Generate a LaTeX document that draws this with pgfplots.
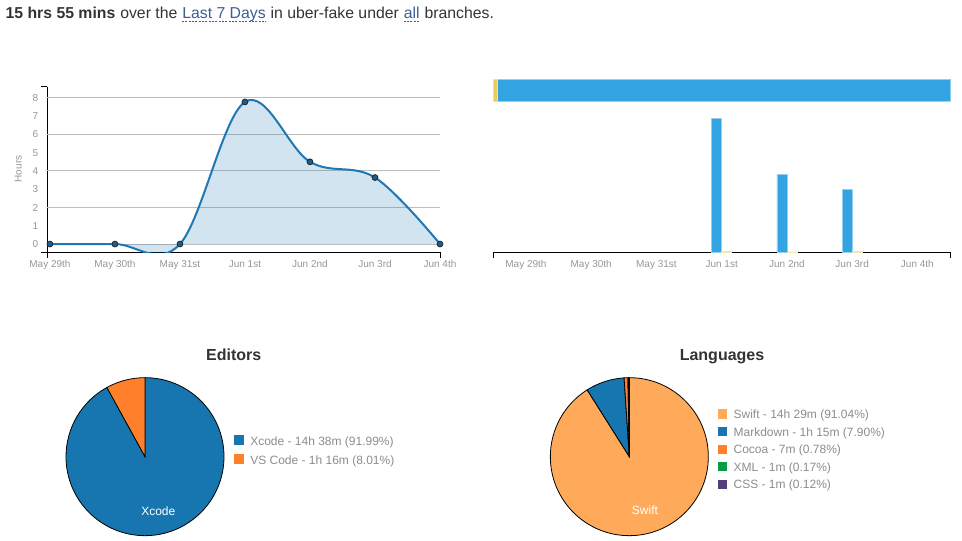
\documentclass[border=0pt]{standalone}
\usepackage{pgfplots}
\pgfplotsset{compat=1.18}
\usepackage{fontspec}
\setmainfont{Liberation Sans}
\setsansfont{Liberation Sans}
\definecolor{txt}{RGB}{51,51,51}
\definecolor{tickgray}{RGB}{150,150,150}
\definecolor{leggray}{RGB}{140,140,140}
\definecolor{gridgray}{RGB}{190,190,190}
\definecolor{linkc}{RGB}{58,94,150}
\definecolor{lineblue}{RGB}{31,119,180}
\definecolor{markblue}{RGB}{25,95,150}
\definecolor{barblue}{RGB}{51,164,226}
\definecolor{barborder}{RGB}{150,205,240}
\definecolor{baryellow}{RGB}{233,206,90}
\definecolor{d3blue}{RGB}{23,118,176}
\definecolor{d3orange}{RGB}{255,127,42}
\definecolor{swift}{RGB}{255,170,90}
\definecolor{xmlgreen}{RGB}{12,154,68}
\definecolor{csspurple}{RGB}{85,63,123}
\newcommand{\tickfont}{\fontsize{7.5}{9}\selectfont}
\newcommand{\legfont}{\fontsize{9}{11}\selectfont}
\begin{document}
\begin{tikzpicture}
\path[use as bounding box] (0,0) rectangle (721.5pt,-405.75pt);

% ---------- header ----------
\begin{scope}[every node/.style={inner sep=0pt, anchor=base west, text=txt, font=\fontsize{11.85}{14}\selectfont}]
\node (h1) at (4pt,-13.9pt) {\bfseries 15 hrs 55 mins};
\node (h2) at (h1.base east) {\ over the\ \null};
\node[text=linkc] (h3) at (h2.base east) {Last 7 Days};
\node (h4) at (h3.base east) {\ in uber-fake under\ \null};
\node[text=linkc] (h5) at (h4.base east) {all};
\node (h6) at (h5.base east) {\ branches.};
\end{scope}
\draw[linkc, line width=0.6pt, dash pattern=on 1.5pt off 1pt] ([yshift=-1.8pt]h3.base west) -- ([yshift=-1.8pt]h3.base east);
\draw[linkc, line width=0.6pt, dash pattern=on 1.5pt off 1pt] ([yshift=-1.8pt]h5.base west) -- ([yshift=-1.8pt]h5.base east);

% ---------- line chart ----------
\begin{axis}[name=lc,
  at={(35.5pt,-189.2pt)}, anchor=south west,
  scale only axis, width=294.5pt, height=124pt,
  xmin=-0.04, xmax=6, ymin=-0.45, ymax=8.6,
  axis x line*=bottom, axis y line*=left,
  axis line style={black, line width=0.75pt},
  xtick={0,...,6},
  xticklabels={May 29th, May 30th, May 31st, Jun 1st, Jun 2nd, Jun 3rd, Jun 4th},
  ytick={0,...,8},
  major tick length=0pt,
  tick label style={font=\tickfont, text=tickgray},
  xticklabel style={inner sep=0pt, anchor=north, yshift=-6pt},
  yticklabel style={inner sep=0pt, anchor=east, xshift=-6.75pt},
  /pgf/number format/assume math mode=true,
  extra y ticks={0,2,4,6,8}, extra y tick labels={},
  extra y tick style={grid=major},
  major grid style={gridgray, line width=0.75pt},
  ylabel={Hours},
  ylabel style={at={(axis description cs:-0.074,0.504)}, anchor=center, font=\tickfont, text=tickgray},
]
\addplot[smooth, tension=0.6, draw=none, fill=lineblue, fill opacity=0.2] coordinates {
  (0,0) (1,0) (2,0) (3,7.78) (4,4.50) (5,3.64) (6,0)} \closedcycle;
\addplot[smooth, tension=0.6, lineblue, line width=1.5pt,
  mark=*, mark size=2.2pt, mark options={fill=markblue, draw=black!85, line width=0.6pt}]
  coordinates {(0,0) (1,0) (2,0) (3,7.78) (4,4.50) (5,3.64) (6,0)};
\end{axis}
\draw[line width=0.75pt] (lc.north west) -- ++(-4.5pt,0);
\draw[line width=0.75pt] (lc.south west) -- ++(-4.5pt,0);
\draw[line width=0.75pt] (lc.south west) -- ++(0,-4.5pt);
\draw[line width=0.75pt] (lc.south east) -- ++(0,-4.5pt);

% ---------- top stacked bar ----------
\begin{axis}[
  at={(370pt,-76.3pt)}, anchor=south west,
  scale only axis, width=343pt, height=17pt,
  xmin=0, xmax=100, ymin=-0.5, ymax=0.5,
  hide axis, xbar stacked, bar width=16.5pt,
]
\addplot[fill=baryellow, draw=baryellow!60, line width=0.4pt] coordinates {(0.96,0)};
\addplot[fill=barblue, draw=barborder, line width=0.6pt] coordinates {(99.04,0)};
\end{axis}

% ---------- bar chart ----------
\begin{axis}[name=bc,
  at={(370pt,-189.2pt)}, anchor=south west,
  scale only axis, width=342.5pt, height=103.8pt,
  xmin=-0.5, xmax=6.5, ymin=0, ymax=8,
  axis x line*=bottom, axis y line=none,
  axis line style={black, line width=0.75pt},
  xtick={0,...,6},
  xticklabels={May 29th, May 30th, May 31st, Jun 1st, Jun 2nd, Jun 3rd, Jun 4th},
  ytick=\empty,
  major tick length=0pt,
  tick label style={font=\tickfont, text=tickgray},
  xticklabel style={inner sep=0pt, anchor=north, yshift=-6pt},
]
\addplot[ybar, bar width=0.153, bar shift=-0.0766, fill=barblue, draw=barborder, line width=0.5pt]
  coordinates {(3,7.75) (4,4.49) (5,3.61)};
\addplot[ybar, bar width=0.153, bar shift=0.0766, fill=baryellow, draw=baryellow!50, line width=0.4pt]
  coordinates {(3,0.04) (4,0.02) (5,0.04)};
\end{axis}
\draw[line width=0.75pt] (bc.south west) -- ++(0,-4.5pt);
\draw[line width=0.75pt] (bc.south east) -- ++(0,-4.5pt);

% ---------- Editors pie ----------
\node[anchor=base, inner sep=0pt, text=txt, font=\fontsize{12}{14}\selectfont\bfseries] at (175.3pt,-270pt) {Editors};
\begin{axis}[
  at={(108.75pt,-342.5pt)}, anchor=center,
  scale only axis, width=118.5pt, height=118.5pt,
  xmin=-1, xmax=1, ymin=-1, ymax=1, hide axis, clip=false,
]
\fill[d3blue, draw=black, line width=0.6pt] (axis cs:0,0) -- +(90:59.25pt)
  arc[start angle=90, end angle={90-3.6*91.99}, radius=59.25pt] -- cycle;
\fill[d3orange, draw=black, line width=0.6pt] (axis cs:0,0) -- +({90-3.6*91.99}:59.25pt)
  arc[start angle={90-3.6*91.99}, end angle={90-3.6*(91.99+8.01)}, radius=59.25pt] -- cycle;
\node[text=white, font=\legfont] at (axis cs:0.168,-0.696) {Xcode};
\end{axis}
\fill[d3blue] (175.5pt,-326.5pt) rectangle (183pt,-334pt);
\fill[d3orange] (175.5pt,-340.2pt) rectangle (183pt,-347.7pt);
\node[anchor=base west, inner sep=0pt, text=leggray, font=\legfont] at (187.5pt,-334.1pt) {Xcode - 14h 38m (91.99\%)};
\node[anchor=base west, inner sep=0pt, text=leggray, font=\legfont] at (187.5pt,-348pt) {VS Code - 1h 16m (8.01\%)};

% ---------- Languages pie ----------
\node[anchor=base, inner sep=0pt, text=txt, font=\fontsize{12}{14}\selectfont\bfseries] at (541.5pt,-270pt) {Languages};
\begin{axis}[
  at={(472pt,-342.5pt)}, anchor=center,
  scale only axis, width=118.5pt, height=118.5pt,
  xmin=-1, xmax=1, ymin=-1, ymax=1, hide axis, clip=false,
]
\fill[swift, draw=black, line width=0.6pt] (axis cs:0,0) -- +(90:59.25pt)
  arc[start angle=90, end angle={90-3.6*91.04}, radius=59.25pt] -- cycle;
\fill[d3blue, draw=black, line width=0.6pt] (axis cs:0,0) -- +({90-3.6*91.04}:59.25pt)
  arc[start angle={90-3.6*91.04}, end angle={90-3.6*(91.04+7.90)}, radius=59.25pt] -- cycle;
\fill[d3orange, draw=black, line width=0.6pt] (axis cs:0,0) -- +({90-3.6*(91.04+7.90)}:59.25pt)
  arc[start angle={90-3.6*(91.04+7.90)}, end angle={90-3.6*(91.04+7.90+0.78)}, radius=59.25pt] -- cycle;
\fill[xmlgreen, draw=black, line width=0.6pt] (axis cs:0,0) -- +({90-3.6*(91.04+7.90+0.78)}:59.25pt)
  arc[start angle={90-3.6*(91.04+7.90+0.78)}, end angle={90-3.6*(91.04+7.90+0.78+0.17)}, radius=59.25pt] -- cycle;
\fill[csspurple, draw=black, line width=0.6pt] (axis cs:0,0) -- +({90-3.6*(91.04+7.90+0.78+0.17)}:59.25pt)
  arc[start angle={90-3.6*(91.04+7.90+0.78+0.17)}, end angle={90-3.6*(91.04+7.90+0.78+0.17+0.12)}, radius=59.25pt] -- cycle;
\node[text=white, font=\legfont] at (axis cs:0.198,-0.684) {Swift};
\end{axis}
\fill[swift]     (538.7pt,-307.1pt) rectangle (545.5pt,-313.9pt);
\fill[d3blue]    (538.7pt,-320.3pt) rectangle (545.5pt,-327.1pt);
\fill[d3orange]  (538.7pt,-333.5pt) rectangle (545.5pt,-340.3pt);
\fill[xmlgreen]  (538.7pt,-346.7pt) rectangle (545.5pt,-353.5pt);
\fill[csspurple] (538.7pt,-359.9pt) rectangle (545.5pt,-366.7pt);
\begin{scope}[every node/.style={anchor=base west, inner sep=0pt, text=leggray, font=\legfont}]
\node at (550pt,-313.9pt) {Swift - 14h 29m (91.04\%)};
\node at (550pt,-327.1pt) {Markdown - 1h 15m (7.90\%)};
\node at (550pt,-340.3pt) {Cocoa - 7m (0.78\%)};
\node at (550pt,-353.5pt) {XML - 1m (0.17\%)};
\node at (550pt,-366.7pt) {CSS - 1m (0.12\%)};
\end{scope}
\end{tikzpicture}
\end{document}
